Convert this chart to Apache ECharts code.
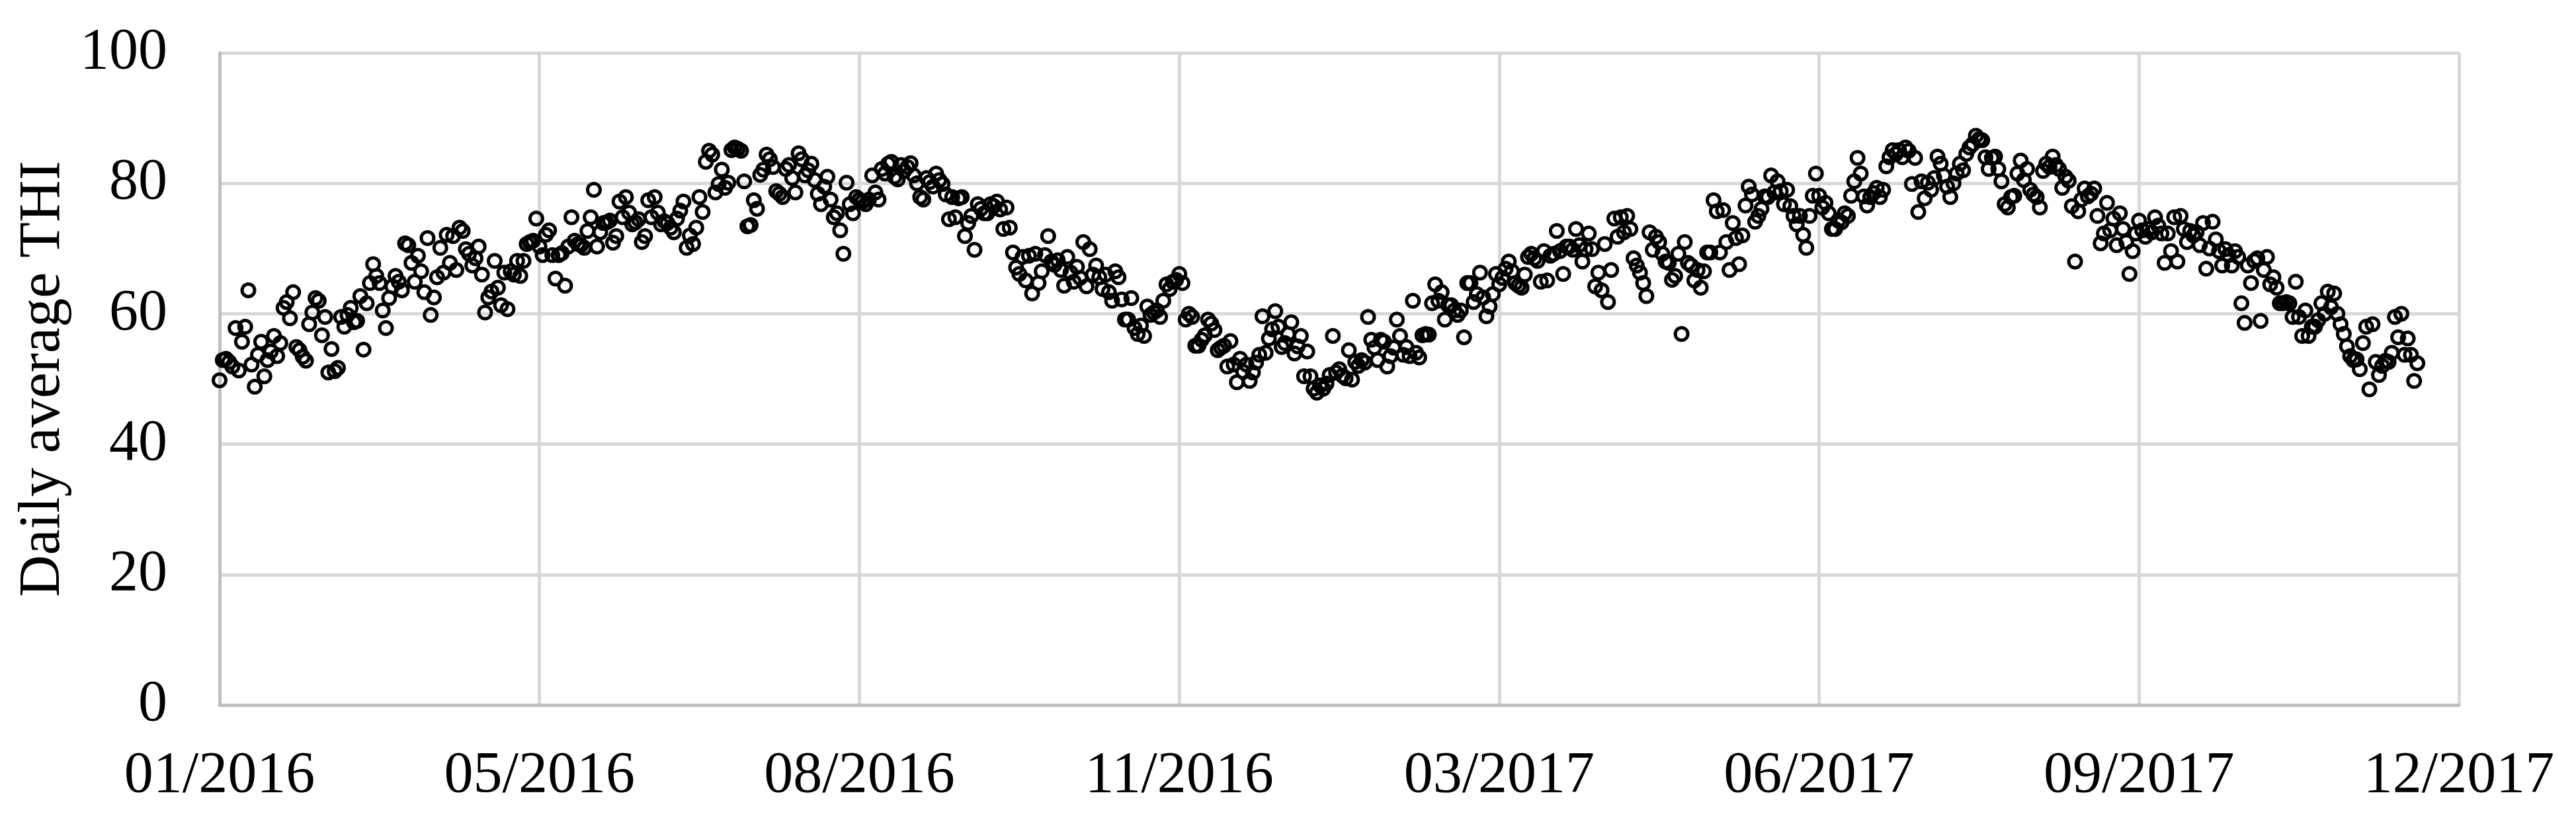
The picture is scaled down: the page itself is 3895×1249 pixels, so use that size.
<!DOCTYPE html>
<html>
<head>
<meta charset="utf-8">
<title>Daily average THI</title>
<script src="https://cdn.jsdelivr.net/npm/echarts/dist/echarts.min.js"></script>
<style>
  html, body { margin: 0; padding: 0; background: #ffffff; }
  #chart { width: 3895px; height: 1249px; }
</style>
</head>
<body>
<div id="chart"></div>
<script>
// Daily average THI, one value per day starting at startDate
const startDate = Date.UTC(2016, 0, 27);
const tickStepDays = 100;
const axisDays = 700;

// days 0-65 (late Jan - early Apr 2016)
const thiSeg1 = [
  49.8, 52.9, 53.1, 52.6, 51.9, 57.8, 51.3, 55.7, 58.0, 63.6,
  52.2, 48.8, 53.7, 55.7, 50.4, 52.9, 54.2, 56.6, 53.5, 55.5,
  60.9, 61.8, 59.3, 63.3, 54.9, 54.4, 53.4, 52.8, 58.4, 60.2,
  62.4, 62.0, 56.7, 59.5, 51.0, 54.6, 51.2, 51.7, 59.5, 58.0,
  59.8, 60.9, 58.7, 58.9, 62.7, 54.5, 61.6, 64.7, 67.6, 65.8,
  64.7, 60.5, 57.8, 62.4, 64.2, 65.8, 64.9, 63.6, 70.8, 70.5,
  67.8, 64.9, 68.9, 66.5, 63.3, 71.6
];
// days 66-134
const thiSeg2 = [
  59.8, 62.5, 65.6, 70.1, 66.3, 72.1, 67.8, 71.9, 66.7, 73.2,
  72.7, 69.9, 69.2, 67.4, 68.5, 70.3, 66.0, 60.2, 62.5, 63.4,
  68.1, 64.0, 61.3, 66.3, 60.7, 66.5, 66.0, 68.1, 65.8, 68.1,
  70.7, 71.0, 71.2, 74.6, 70.3, 69.0, 72.1, 72.8, 69.0, 65.4,
  69.0, 69.3, 64.3, 70.3, 74.8, 71.2, 70.7, 70.5, 70.1, 72.7,
  74.8, 79.0, 70.3, 72.5, 73.9, 74.0, 74.3, 70.9, 71.9, 77.2,
  74.8, 77.9, 75.5, 73.7, 74.0, 74.5, 71.0, 71.9, 77.4
];
// days 135-203
const thiSeg3 = [
  74.8, 77.9, 75.5, 73.7, 74.2, 73.9, 73.2, 72.5, 74.6, 75.8,
  77.2, 70.1, 72.0, 70.7, 73.2, 77.9, 75.6, 83.3, 85.0, 84.4,
  78.6, 79.9, 82.1, 79.3, 80.1, 85.1, 85.5, 85.3, 85.0, 80.3,
  73.4, 73.6, 77.4, 76.1, 81.3, 82.1, 84.4, 83.7, 82.5, 78.8,
  78.4, 77.9, 82.2, 82.8, 80.8, 78.6, 84.6, 83.7, 81.2, 82.0,
  83.0, 80.5, 78.4, 76.8, 79.5, 81.0, 77.5, 74.8, 75.4, 72.8,
  69.2, 80.1, 76.8, 75.4, 77.9, 77.5, 77.2, 76.8, 77.5
];
// days 204-273
const thiSeg4 = [
  81.2, 78.6, 77.5, 82.2, 81.5, 83.0, 83.3, 81.0, 80.6, 82.8,
  81.9, 82.5, 83.1, 81.2, 80.0, 77.9, 77.5, 80.8, 80.2, 79.5,
  81.5, 80.5, 79.9, 78.3, 74.5, 77.9, 74.8, 77.7, 77.9, 71.9,
  73.9, 75.0, 69.8, 76.8, 76.1, 75.4, 75.4, 76.8, 76.5, 77.2,
  76.0, 73.0, 76.3, 73.2, 69.4, 67.1, 66.1, 68.7, 65.1, 68.9,
  63.1, 69.2, 64.7, 66.5, 69.0, 71.9, 68.0, 67.5, 68.2, 66.7,
  64.3, 68.7, 66.3, 64.9, 67.2, 65.5, 71.0, 64.2, 69.9, 66.0
];
// days 274-346
const thiSeg5 = [
  67.4, 65.6, 63.8, 66.0, 63.3, 62.0, 66.5, 65.6, 62.2, 59.1,
  59.1, 62.4, 57.8, 56.9, 58.2, 56.6, 61.1, 59.8, 60.2, 60.5,
  59.5, 62.0, 64.5, 63.8, 64.9, 65.2, 66.1, 64.7, 59.1, 60.0,
  59.5, 55.1, 55.1, 56.0, 56.7, 59.1, 58.5, 57.5, 54.4, 54.8,
  55.1, 51.9, 55.8, 52.2, 49.5, 53.1, 51.1, 52.2, 49.7, 51.0,
  52.5, 53.7, 59.6, 54.0, 56.2, 57.6, 60.4, 58.0, 54.9, 55.5,
  56.9, 58.7, 53.9, 55.0, 56.6, 50.4, 54.2, 50.4, 48.5, 47.9,
  49.0, 48.5, 49.3
];
// days 347-414
const thiSeg6 = [
  50.6, 56.6, 51.0, 51.5, 50.5, 50.1, 54.4, 49.9, 52.6, 52.0,
  52.9, 52.5, 59.5, 56.0, 54.8, 52.9, 56.0, 55.7, 51.9, 53.5,
  54.8, 59.1, 56.6, 53.7, 54.9, 53.5, 62.0, 54.0, 53.3, 56.7,
  56.9, 56.8, 61.6, 64.5, 62.0, 63.3, 59.1, 61.3, 61.3, 60.5,
  59.8, 60.5, 56.4, 64.7, 64.7, 61.8, 63.0, 66.3, 62.5, 59.6,
  61.1, 63.0, 66.1, 64.5, 65.5, 66.9, 68.0, 66.5, 64.7, 64.3,
  64.0, 66.0, 68.7, 69.2, 68.5, 68.1, 64.9, 69.6
];
// days 415-484
const thiSeg7 = [
  65.1, 68.9, 69.2, 72.7, 69.6, 66.1, 70.3, 70.3, 69.8, 73.0,
  70.5, 68.0, 69.9, 72.3, 69.9, 64.2, 66.3, 63.6, 70.7, 61.8,
  66.7, 74.6, 71.8, 74.8, 72.5, 75.0, 73.0, 68.5, 67.4, 66.3,
  64.7, 62.7, 72.5, 69.8, 71.8, 71.0, 69.2, 68.0, 67.8, 65.2,
  65.8, 69.2, 56.9, 71.0, 67.8, 67.4, 65.1, 66.7, 64.0, 66.5,
  69.4, 69.4, 77.4, 75.7, 69.4, 75.9, 71.0, 66.7, 73.9, 71.6,
  67.6, 72.0, 76.6, 79.5, 78.3, 74.1, 75.0, 76.1, 78.0, 77.9
];
// days 485-554
const thiSeg8 = [
  81.2, 78.6, 80.3, 78.8, 76.8, 79.0, 76.5, 75.0, 73.7, 75.0,
  72.1, 70.1, 75.0, 78.1, 81.5, 78.1, 76.3, 77.0, 75.4, 73.0,
  73.0, 74.3, 74.0, 75.4, 75.0, 78.1, 80.3, 83.9, 81.5, 78.0,
  76.6, 77.9, 78.5, 79.3, 77.9, 79.0, 82.6, 84.0, 85.1, 84.5,
  85.1, 84.0, 85.5, 85.0, 79.9, 83.9, 75.6, 80.3, 77.7, 80.1,
  79.0, 80.8, 84.1, 83.0, 81.2, 79.5, 77.9, 80.0, 81.5, 83.0,
  82.0, 84.5, 85.5, 86.0, 87.3, 86.8, 86.6, 84.0, 82.2, 83.9
];
// days 555-624
const thiSeg9 = [
  84.1, 82.2, 80.3, 76.8, 76.3, 77.9, 78.1, 81.5, 83.5, 80.5,
  82.2, 79.0, 78.3, 77.9, 76.3, 81.9, 83.0, 82.5, 84.1, 82.8,
  82.2, 79.3, 81.0, 80.4, 76.5, 68.0, 75.7, 77.5, 79.2, 78.0,
  78.4, 79.2, 75.0, 70.8, 72.3, 77.0, 72.8, 74.6, 70.5, 75.4,
  73.0, 71.0, 66.1, 69.6, 72.3, 74.3, 72.8, 71.8, 73.0, 72.5,
  74.8, 73.5, 72.3, 67.8, 72.3, 69.6, 74.8, 68.0, 75.0, 73.0,
  71.0, 72.7, 72.0, 72.5, 70.5, 73.9, 66.9, 70.0, 74.1, 71.4
];
// days 625-687 (to mid Dec 2017)
const thiSeg10 = [
  69.6, 67.4, 69.9, 69.0, 67.4, 69.6, 68.7, 61.6, 58.6, 67.4,
  64.7, 68.1, 68.5, 58.9, 66.7, 68.7, 64.5, 65.6, 64.0, 61.6,
  61.6, 61.8, 61.6, 59.5, 64.9, 59.5, 56.6, 60.5, 56.6, 58.0,
  58.0, 59.0, 61.6, 60.0, 63.4, 61.0, 63.1, 60.0, 58.4, 56.9,
  55.0, 53.5, 52.9, 53.0, 51.5, 55.5, 58.0, 48.4, 58.4, 52.6,
  50.6, 52.0, 52.8, 52.6, 54.0, 59.5, 56.4, 60.0, 53.7, 56.2,
  53.7, 49.7, 52.4
];

const thi = [].concat(thiSeg1, thiSeg2, thiSeg3, thiSeg4, thiSeg5,
  thiSeg6, thiSeg7, thiSeg8, thiSeg9, thiSeg10);

function formatMonth(day) {
  const d = new Date(startDate + day * 86400000);
  const m = d.getUTCMonth() + 1;
  return (m < 10 ? '0' : '') + m + '/' + d.getUTCFullYear();
}

const font = 'Liberation Serif';
const chart = echarts.init(document.getElementById('chart'), null, { renderer: 'canvas' });

const option = {
  backgroundColor: '#ffffff',
  animation: false,
  grid: { left: 332, right: 177, top: 80, bottom: 183, containLabel: false, outerBoundsMode: 'none' },
  xAxis: {
    type: 'value',
    min: 0,
    max: axisDays,
    interval: tickStepDays,
    axisLine: { show: true, lineStyle: { color: '#bfbfbf', width: 5 } },
    axisTick: { show: false },
    splitLine: { show: true, lineStyle: { color: '#d9d9d9', width: 5 } },
    axisLabel: {
      showMinLabel: true,
      showMaxLabel: true,
      margin: 64,
      color: '#000',
      fontFamily: font,
      fontSize: 88,
      formatter: formatMonth
    }
  },
  yAxis: {
    type: 'value',
    min: 0,
    max: 100,
    interval: 20,
    name: 'Daily average THI',
    nameLocation: 'middle',
    nameGap: 215,
    nameTextStyle: { color: '#000', fontFamily: font, fontSize: 88 },
    axisLine: { show: true, lineStyle: { color: '#bfbfbf', width: 5 } },
    axisTick: { show: false },
    splitLine: { show: true, lineStyle: { color: '#d9d9d9', width: 5 } },
    axisLabel: { margin: 79, color: '#000', fontFamily: font, fontSize: 88 }
  },
  series: [{
    type: 'scatter',
    data: thi.map((v, i) => [i, v]),
    symbol: 'circle',
    symbolSize: 19,
    itemStyle: { color: 'rgba(0,0,0,0)', borderColor: '#000', borderWidth: 5, opacity: 1 },
    emphasis: { disabled: true },
    silent: true
  }]
};

chart.setOption(option);
</script>
</body>
</html>
